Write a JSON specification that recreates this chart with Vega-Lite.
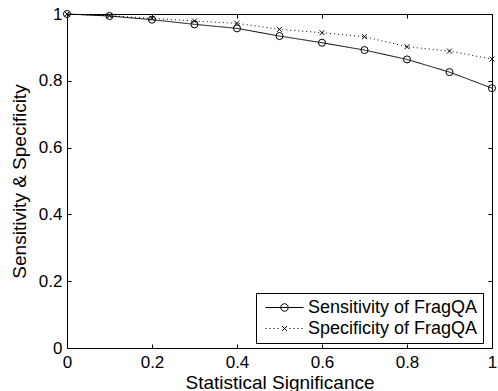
{
  "$schema": "https://vega.github.io/schema/vega-lite/v6.json",
  "width": 425,
  "height": 334,
  "autosize": {"type": "none"},
  "padding": {"left": 67, "top": 14, "right": 6, "bottom": 43},
  "background": "white",
  "config": {
    "view": {"stroke": null},
    "font": "Liberation Sans",
    "axis": {
      "grid": false,
      "domainColor": "black",
      "domainWidth": 1,
      "tickColor": "black",
      "tickWidth": 1,
      "tickSize": -4,
      "labelFont": "Liberation Sans",
      "labelFontSize": 17,
      "labelColor": "black",
      "titleFont": "Liberation Sans",
      "titleFontSize": 19,
      "titleFontWeight": "normal",
      "titleColor": "black",
      "labelFlush": false,
      "labelOverlap": false
    }
  },
  "datasets": {
    "main": [
      {"x": 0.0, "value": 1.0, "series": "Sensitivity of FragQA"},
      {"x": 0.1, "value": 0.994, "series": "Sensitivity of FragQA"},
      {"x": 0.2, "value": 0.983, "series": "Sensitivity of FragQA"},
      {"x": 0.3, "value": 0.969, "series": "Sensitivity of FragQA"},
      {"x": 0.4, "value": 0.957, "series": "Sensitivity of FragQA"},
      {"x": 0.5, "value": 0.934, "series": "Sensitivity of FragQA"},
      {"x": 0.6, "value": 0.914, "series": "Sensitivity of FragQA"},
      {"x": 0.7, "value": 0.892, "series": "Sensitivity of FragQA"},
      {"x": 0.8, "value": 0.864, "series": "Sensitivity of FragQA"},
      {"x": 0.9, "value": 0.826, "series": "Sensitivity of FragQA"},
      {"x": 1.0, "value": 0.778, "series": "Sensitivity of FragQA"},
      {"x": 0.0, "value": 1.0, "series": "Specificity of FragQA"},
      {"x": 0.1, "value": 0.995, "series": "Specificity of FragQA"},
      {"x": 0.2, "value": 0.987, "series": "Specificity of FragQA"},
      {"x": 0.3, "value": 0.979, "series": "Specificity of FragQA"},
      {"x": 0.4, "value": 0.972, "series": "Specificity of FragQA"},
      {"x": 0.5, "value": 0.954, "series": "Specificity of FragQA"},
      {"x": 0.6, "value": 0.944, "series": "Specificity of FragQA"},
      {"x": 0.7, "value": 0.932, "series": "Specificity of FragQA"},
      {"x": 0.8, "value": 0.902, "series": "Specificity of FragQA"},
      {"x": 0.9, "value": 0.889, "series": "Specificity of FragQA"},
      {"x": 1.0, "value": 0.865, "series": "Specificity of FragQA"}
    ]
  },
  "data": {"name": "main"},
  "resolve": {
    "axis": {"x": "independent", "y": "independent"},
    "scale": {"shape": "independent"},
    "legend": {"shape": "independent"}
  },
  "layer": [
    {
      "mark": {"type": "line", "color": "black", "strokeWidth": 1},
      "encoding": {
        "x": {"field": "x", "type": "quantitative",
              "scale": {"domain": [0, 1], "nice": false, "zero": false},
              "axis": {"orient": "bottom", "title": "Statistical Significance", "values": [0, 0.2, 0.4, 0.6, 0.8, 1], "format": "~g", "labelPadding": 10, "titleY": 40, "titleBaseline": "alphabetic"}},
        "y": {"field": "value", "type": "quantitative",
              "scale": {"domain": [0, 1], "nice": false, "zero": false},
              "axis": {"orient": "left", "title": "Sensitivity & Specificity", "values": [0, 0.2, 0.4, 0.6, 0.8, 1], "format": "~g", "labelPadding": 9, "titleX": -42, "titleBaseline": "alphabetic"}},
        "strokeDash": {"field": "series", "type": "nominal",
              "scale": {"domain": ["Sensitivity of FragQA", "Specificity of FragQA"], "range": [[1, 0], [1, 3]]},
              "legend": null},
        "detail": {"field": "series"}
      }
    },
    {
      "mark": {"type": "point", "filled": false, "color": "black", "strokeWidth": 1, "size": 50, "opacity": 1},
      "encoding": {
        "x": {"field": "x", "type": "quantitative",
              "axis": {"orient": "top", "title": null, "labels": false, "values": [0, 0.2, 0.4, 0.6, 0.8, 1]}},
        "y": {"field": "value", "type": "quantitative",
              "axis": {"orient": "right", "title": null, "labels": false, "values": [0, 0.2, 0.4, 0.6, 0.8, 1]}},
        "shape": {"field": "series", "type": "nominal",
              "scale": {"domain": ["Sensitivity of FragQA", "Specificity of FragQA"], "range": ["circle", "M-0.7,-0.7L0.7,0.7M-0.7,0.7L0.7,-0.7"]},
              "legend": null}
      }
    },
    {
      "transform": [{"filter": "false"}],
      "mark": {"type": "point", "filled": false, "color": "black", "strokeWidth": 1, "size": 324, "opacity": 1},
      "encoding": {
        "shape": {"field": "series", "type": "nominal",
              "scale": {"domain": ["Sensitivity of FragQA", "Specificity of FragQA"],
                        "range": [
                          "M-0.556,0L3.667,0M1.136,0A0.42,0.42 0 1,1 1.976,0A0.42,0.42 0 1,1 1.136,0",
                          "M-0.556,0h0.12M-0.111,0h0.12M0.333,0h0.12M0.778,0h0.12M2.111,0h0.12M2.556,0h0.12M3,0h0.12M3.444,0h0.12M1.278,-0.278L1.834,0.278M1.278,0.278L1.834,-0.278"
                        ]},
              "legend": {
                "title": null,
                "orient": "none",
                "legendX": 189,
                "legendY": 279,
                "padding": 5,
                "rowPadding": 2,
                "strokeColor": "black",
                "fillColor": "white",
                "labelFont": "Liberation Sans",
                "labelFontSize": 18,
                "labelColor": "black",
                "labelOffset": 28,
                "labelLimit": 400,
                "symbolStrokeColor": "black",
                "symbolFillColor": "transparent",
                "symbolStrokeWidth": 1,
                "symbolSize": 324
              }}
      }
    }
  ]
}
